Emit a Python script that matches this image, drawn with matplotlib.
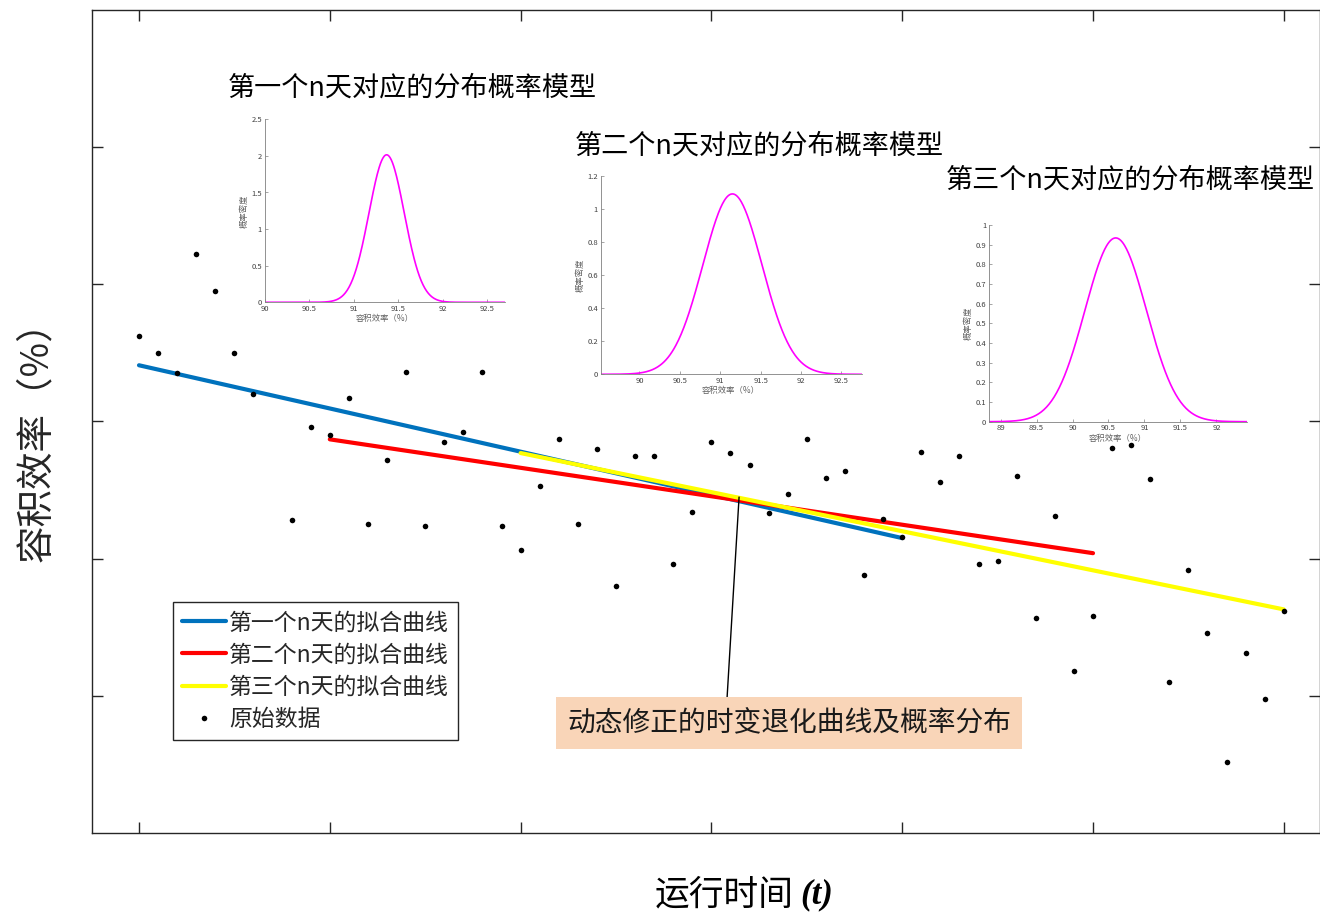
import numpy as np
import matplotlib
matplotlib.use('Agg')
import matplotlib.pyplot as plt
from matplotlib.ticker import FormatStrFormatter

CJK = ['Noto Sans CJK SC', 'DejaVu Sans']
plt.rcParams['font.family'] = CJK
plt.rcParams['axes.unicode_minus'] = False

# ---------------- data ----------------
t_raw = [0.0, 0.1, 0.2, 0.3, 0.4, 0.5, 0.6, 0.8, 0.9, 1.0,
         1.1, 1.2, 1.3, 1.4, 1.5, 1.6, 1.7, 1.8, 1.9, 2.0,
         2.1, 2.2, 2.3, 2.4, 2.5, 2.6, 2.7, 2.8, 2.9, 3.0,
         3.1, 3.2, 3.3, 3.4, 3.5, 3.6, 3.7, 3.8, 3.9, 4.0,
         4.1, 4.2, 4.3, 4.4, 4.5, 4.6, 4.7, 4.8, 4.9, 5.0,
         5.1, 5.2, 5.3, 5.4, 5.5, 5.6, 5.7, 5.8, 5.9, 6.0]
eff_raw = [3.62, 3.50, 3.35, 4.22, 3.95, 3.50, 3.20, 2.28, 2.96, 2.90,
           3.17, 2.25, 2.72, 3.36, 2.24, 2.85, 2.92, 3.36, 2.24, 2.06,
           2.53, 2.87, 2.25, 2.80, 1.80, 2.75, 2.75, 1.96, 2.34, 2.85,
           2.77, 2.68, 2.33, 2.47, 2.87, 2.59, 2.64, 1.88, 2.29, 2.16,
           2.78, 2.56, 2.75, 1.96, 1.98, 2.60, 1.57, 2.31, 1.18, 1.58,
           2.81, 2.83, 2.58, 1.10, 1.92, 1.46, 0.52, 1.31, 0.98, 1.62]

fit1_t = [0.0, 4.0]
fit1_y = [3.41, 2.15]
fit2_t = [1.0, 5.0]
fit2_y = [2.87, 2.04]
fit3_t = [2.0, 6.0]
fit3_y = [2.77, 1.63]

legend_labels = ['第一个n天的拟合曲线', '第二个n天的拟合曲线',
                 '第三个n天的拟合曲线', '原始数据']
fit_colors = ['#0072BD', '#FF0000', '#FFFF00']

x_ticks = [0, 1, 2, 3, 4, 5, 6]
y_ticks = [1, 2, 3, 4, 5]

inset_titles = ['第一个n天对应的分布概率模型', '第二个n天对应的分布概率模型',
                '第三个n天对应的分布概率模型']
pdf_mean = [91.37, 91.15, 90.60]
pdf_sigma = [0.198, 0.366, 0.427]
inset_xlim = [(90.0, 92.70), (89.52, 92.75), (88.84, 92.42)]
inset_xticks = [[90, 90.5, 91, 91.5, 92, 92.5],
                [90, 90.5, 91, 91.5, 92, 92.5],
                [89, 89.5, 90, 90.5, 91, 91.5, 92]]
inset_ylim = [2.5, 1.2, 1.0]
inset_yticks = [[0, 0.5, 1, 1.5, 2, 2.5],
                [0, 0.2, 0.4, 0.6, 0.8, 1, 1.2],
                [0, 0.1, 0.2, 0.3, 0.4, 0.5, 0.6, 0.7, 0.8, 0.9, 1]]

annot_text = '动态修正的时变退化曲线及概率分布'
# ---------------- layout ----------------
W, H = 1320, 913
fig = plt.figure(figsize=(W / 100, H / 100), dpi=100)


def px_rect(l, t, r, b):
    return [l / W, 1 - b / H, (r - l) / W, (b - t) / H]


ax = fig.add_axes(px_rect(92, 10, 1319.5, 833))
ax.set_xlim(-0.2463, 6.187)
ax.set_ylim(0, 6)

for tt, yy, c, lab in zip([fit1_t, fit2_t, fit3_t], [fit1_y, fit2_y, fit3_y],
                          fit_colors, legend_labels[:3]):
    ax.plot(tt, yy, color=c, lw=3.0, label=lab, solid_capstyle='round', zorder=2)
ax.plot(t_raw, eff_raw, linestyle='none', marker='o', markersize=4.0,
        color='black', markeredgewidth=0, label=legend_labels[3], zorder=3)

ax.set_xticks(x_ticks)
ax.set_yticks(y_ticks)
ax.tick_params(axis='both', which='both', direction='in', length=8, width=1.0,
               colors='#262626', top=True, right=True,
               labelbottom=False, labelleft=False)
for s in ax.spines.values():
    s.set_color('#262626')
    s.set_linewidth(1.0)

ax.set_ylabel('容积效率（%）', fontsize=27, color='#262626')
ax.yaxis.set_label_coords(-0.045, 0.487)
ax.yaxis.label.set_va('center')
ax.yaxis.label.set_ha('center')
ax.set_xlabel('运行时间', fontsize=25, color='black')
ax.xaxis.set_label_coords(0.515, -0.075)
ax.xaxis.label.set_va('center')
ax.text(0.577, -0.075, '(t)', transform=ax.transAxes, ha='left', va='center',
        fontsize=25, family='Liberation Serif', fontweight='bold', style='italic')

leg = ax.legend(loc='lower left', bbox_to_anchor=((173 - 92) / 1227.5, (833 - 740) / 823),
                borderaxespad=0, fontsize=16.5, frameon=True, fancybox=False,
                edgecolor='#262626', framealpha=1, handlelength=1.9,
                handletextpad=0.15, labelspacing=0.4, borderpad=0.4)
leg.get_frame().set_linewidth(1.0)
for txt in leg.get_texts():
    txt.set_color('#262626')

# annotation
ax.annotate('', xy=(3.145, 2.449), xytext=(3.082, 0.984),
            arrowprops=dict(arrowstyle='-', color='black', lw=1.0, shrinkA=0, shrinkB=0))
ax.text(3.407, 0.802, annot_text, ha='center', va='center', fontsize=20,
        color='#1a1a1a',
        bbox=dict(boxstyle='square,pad=0.4', fc='#F9D5B8', ec='none'))

# insets
inset_px = [(264.7, 119.3, 505.0, 302.3),
            (600.7, 175.7, 861.7, 374.3),
            (989.0, 225.0, 1246.7, 421.7)]
title_pos = [(0.613, 1.171), (0.608, 1.150), (0.547, 1.229)]
for i in range(3):
    a = fig.add_axes(px_rect(*inset_px[i]))
    xs = np.linspace(inset_xlim[i][0], inset_xlim[i][1], 400)
    ys = np.exp(-0.5 * ((xs - pdf_mean[i]) / pdf_sigma[i]) ** 2) / (pdf_sigma[i] * np.sqrt(2 * np.pi))
    a.plot(xs, ys, color='#FF00FF', lw=1.2)
    a.set_xlim(*inset_xlim[i])
    a.set_ylim(0, inset_ylim[i])
    a.set_xticks(inset_xticks[i])
    a.set_yticks(inset_yticks[i])
    a.xaxis.set_major_formatter(FormatStrFormatter('%g'))
    a.yaxis.set_major_formatter(FormatStrFormatter('%g'))
    a.tick_params(direction='in', length=2, width=0.5, colors='#808080',
                  labelsize=5.5, labelcolor='#404040', pad=2)
    for side in ['top', 'right']:
        a.spines[side].set_visible(False)
    for side in ['left', 'bottom']:
        a.spines[side].set_color('#808080')
        a.spines[side].set_linewidth(0.6)
    a.set_xlabel('容积效率（%）', fontsize=6, color='#606060', labelpad=1)
    a.set_ylabel('概率密度', fontsize=6, color='#606060', labelpad=2)
    a.set_title(inset_titles[i], x=title_pos[i][0], y=title_pos[i][1], pad=0,
                fontsize=19.5, va='center', color='black')

fig.savefig('out.png', dpi=100)
